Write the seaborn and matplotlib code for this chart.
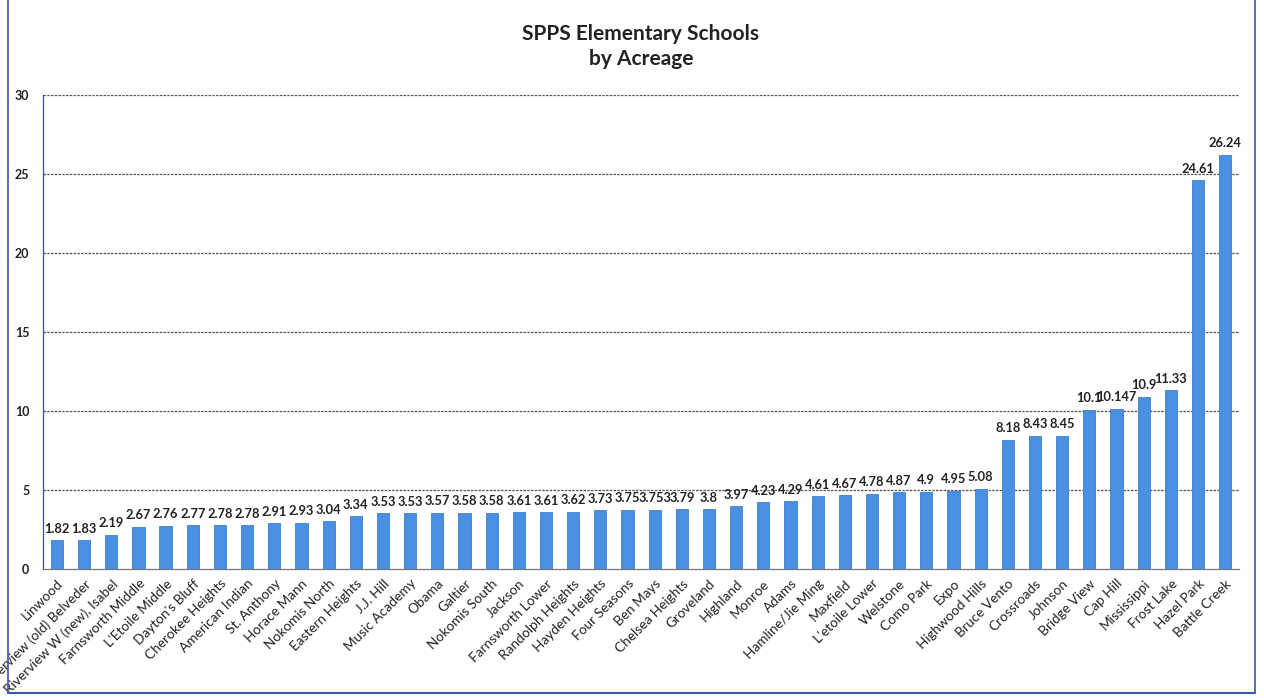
import matplotlib
matplotlib.use("Agg")
import matplotlib.pyplot as plt
import seaborn as sns
import pandas as pd
import numpy as np
from matplotlib.lines import Line2D

schools = ["Linwood", "Riverview (old) Belveder", "Riverview W (new), Isabel", "Farnsworth Middle",
           "L'Etoile Middle", "Dayton's Bluff", "Cherokee Heights", "American Indian", "St. Anthony",
           "Horace Mann", "Nokomis North", "Eastern Heights", "J.J. Hill", "Music Academy", "Obama",
           "Galtier", "Nokomis South", "Jackson", "Farnsworth Lower", "Randolph Heights",
           "Hayden Heights", "Four Seasons", "Ben Mays", "Chelsea Heights", "Groveland", "Highland",
           "Monroe", "Adams", "Hamline/Jie Ming", "Maxfield", "L'etoile Lower", "Welstone",
           "Como Park", "Expo", "Highwood Hills", "Bruce Vento", "Crossroads", "Johnson",
           "Bridge View", "Cap Hill", "Mississippi", "Frost Lake", "Hazel Park", "Battle Creek"]
acres = [1.82, 1.83, 2.19, 2.67, 2.76, 2.77, 2.78, 2.78, 2.91, 2.93, 3.04, 3.34, 3.53, 3.53,
         3.57, 3.58, 3.58, 3.61, 3.61, 3.62, 3.73, 3.75, 3.753, 3.79, 3.8, 3.97, 4.23, 4.29,
         4.61, 4.67, 4.78, 4.87, 4.9, 4.95, 5.08, 8.18, 8.43, 8.45, 10.1, 10.147, 10.9, 11.33,
         24.61, 26.24]
labels = ["1.82", "1.83", "2.19", "2.67", "2.76", "2.77", "2.78", "2.78", "2.91", "2.93", "3.04",
          "3.34", "3.53", "3.53", "3.57", "3.58", "3.58", "3.61", "3.61", "3.62", "3.73", "3.75",
          "3.753", "3.79", "3.8", "3.97", "4.23", "4.29", "4.61", "4.67", "4.78", "4.87", "4.9",
          "4.95", "5.08", "8.18", "8.43", "8.45", "10.1", "10.147", "10.9", "11.33", "24.61", "26.24"]
yticks = [0, 5, 10, 15, 20, 25, 30]

sns.set_theme(style="white")
plt.rcParams['font.family'] = ['Lato', 'DejaVu Sans']

df = pd.DataFrame({"school": schools, "acres": acres})

fig = plt.figure(figsize=(12.64, 7.0), dpi=100)
ax = fig.add_axes([0.0343, 0.187, 0.9457, 0.677])

sns.barplot(data=df, x="school", y="acres", color="#4a90e2", width=0.45, ax=ax,
            saturation=1, edgecolor="#3d7fd0", linewidth=0.6)

ax.set_ylim(0, 30)
ax.set_xlim(-0.5, len(schools) - 0.5)
ax.set_yticks(yticks)
ax.set_yticklabels([str(t) for t in yticks], fontsize=9, fontweight="bold", color="#222222")
ax.set_xlabel("")
ax.set_ylabel("")

ax.set_xticks(range(len(schools)))
ax.set_xticklabels(schools, rotation=45, ha="right", rotation_mode="anchor",
                   fontsize=9.8, color="#222222")
ax.tick_params(axis="x", which="major", length=0, pad=6)
ax.set_xticks(np.arange(len(schools) - 1) + 0.5, minor=True)
ax.tick_params(axis="x", which="minor", length=4, color="#555555", direction="out")
ax.tick_params(axis="y", length=4, color="#555555", direction="out", pad=6)

for y in yticks[1:]:
    ax.axhline(y, color="#555555", lw=0.9, ls=(0, (2, 1)), zorder=0)

for i, (v, lab) in enumerate(zip(acres, labels)):
    ax.text(i, v + 0.35, lab, ha="center", va="bottom", fontsize=9.3,
            fontweight="bold", color="#222222")

for s in ["top", "right"]:
    ax.spines[s].set_visible(False)
ax.spines["left"].set_color("#3a4f9a")
ax.spines["left"].set_linewidth(0.9)
ax.spines["bottom"].set_color("#777777")
ax.spines["bottom"].set_linewidth(0.9)

fig.text(0.507, 0.965, "SPPS Elementary Schools\nby Acreage", ha="center", va="top",
         fontsize=15, fontweight="bold", color="#222222", linespacing=1.3)

# page border
bc = "#3a5aa8"
fig.add_artist(Line2D([0.0065, 0.0065], [0.01, 1.0], color=bc, lw=1.2, transform=fig.transFigure))
fig.add_artist(Line2D([0.993, 0.993], [0.01, 1.0], color=bc, lw=1.2, transform=fig.transFigure))
fig.add_artist(Line2D([0.0065, 0.993], [0.01, 0.01], color=bc, lw=1.5, transform=fig.transFigure))

fig.savefig("out.png", dpi=100)
